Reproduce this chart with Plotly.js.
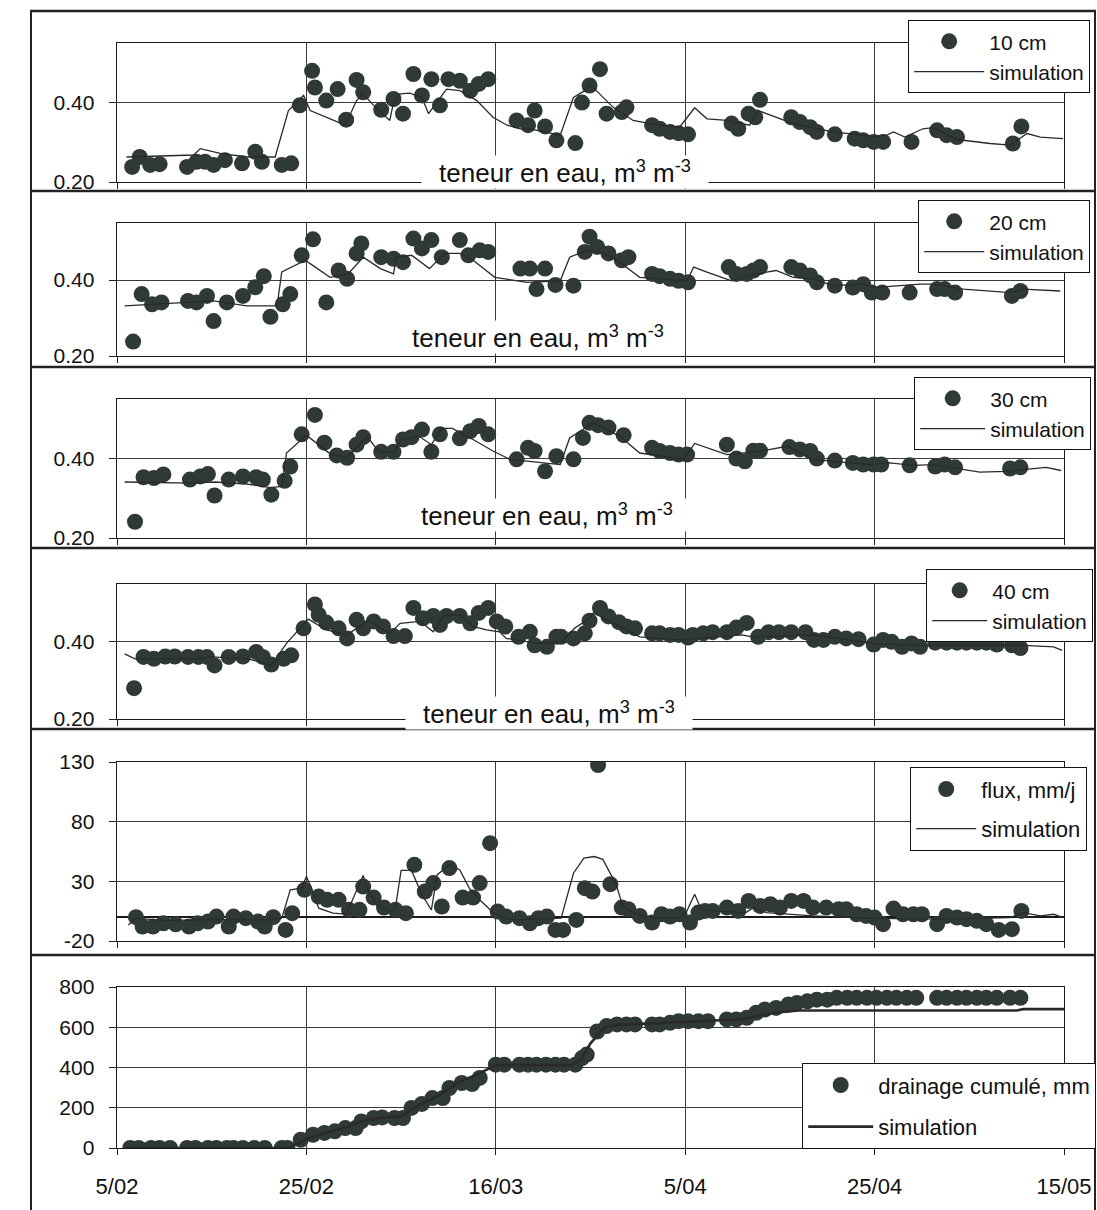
<!DOCTYPE html>
<html>
<head>
<meta charset="utf-8">
<script src="https://cdn.plot.ly/plotly-3.0.1.min.js"></script>
<style>html,body{margin:0;padding:0;background:#fff;}#chart{width:1097px;height:1210px;}</style>
</head>
<body>
<div id="chart"></div>
<script>
// ---- x ticks (days since 5/02) ----
const tickDays = [0, 20, 40, 60, 80, 100];
const tickLabels = ['5/02', '25/02', '16/03', '5/04', '25/04', '15/05'];

// ---- Panel 1 : 10 cm ----
const obsDay10 = [1.6,2.4,3.5,4.5,7.4,8.4,9.3,10.2,11.4,13.2,14.6,15.3,17.4,18.4,19.3,20.6,20.9,22.1,23.3,24.2,25.3,26.0,27.9,29.2,30.2,31.3,32.2,33.2,34.1,35.0,36.2,37.3,38.2,39.2,42.2,43.4,44.1,45.2,46.4,48.4,49.1,49.9,51.0,51.7,53.3,53.8,56.5,57.3,58.4,59.3,60.3,64.9,65.6,66.7,67.4,67.9,71.2,72.1,73.2,73.9,75.8,77.9,78.8,79.9,80.9,83.9,86.6,87.6,88.7,94.6,95.5];
const obs10 = [0.238,0.263,0.243,0.245,0.238,0.251,0.251,0.243,0.255,0.247,0.276,0.251,0.243,0.247,0.393,0.480,0.438,0.405,0.434,0.357,0.457,0.426,0.382,0.409,0.372,0.472,0.418,0.459,0.393,0.459,0.455,0.430,0.447,0.459,0.355,0.343,0.380,0.340,0.305,0.298,0.400,0.443,0.484,0.372,0.376,0.388,0.343,0.334,0.326,0.323,0.320,0.347,0.334,0.372,0.363,0.407,0.363,0.351,0.338,0.326,0.320,0.309,0.305,0.301,0.301,0.301,0.330,0.318,0.313,0.297,0.340];
const simDay10 = [1.0,8.1,8.8,10.9,13.7,16.7,18.1,19.7,20.4,24.1,25.3,26.0,27.1,28.8,29.2,29.9,30.9,32.2,32.9,33.4,34.8,36.2,38.0,39.7,41.2,42.6,43.6,46.8,48.2,49.4,49.9,52.4,54.5,56.3,59.4,61.0,62.3,64.4,66.8,67.7,71.4,75.6,79.9,81.3,82.0,83.2,85.1,86.2,88.7,92.2,94.3,96.1,97.5,99.9];
const sim10 = [0.263,0.268,0.284,0.272,0.263,0.263,0.380,0.418,0.380,0.343,0.405,0.422,0.393,0.355,0.400,0.422,0.424,0.413,0.372,0.388,0.434,0.430,0.405,0.363,0.343,0.334,0.334,0.318,0.413,0.430,0.447,0.388,0.355,0.347,0.338,0.387,0.359,0.355,0.343,0.380,0.347,0.326,0.315,0.318,0.326,0.313,0.334,0.337,0.307,0.297,0.293,0.322,0.313,0.309];

// ---- Panel 2 : 20 cm ----
const obsDay20 = [1.7,2.6,3.7,4.7,7.5,8.4,9.5,10.2,11.6,13.3,14.6,15.5,16.2,17.5,18.3,19.5,20.7,22.1,23.4,24.3,25.3,25.8,27.9,29.2,30.2,31.3,32.2,33.2,34.3,36.2,37.1,38.3,39.2,42.6,43.6,44.3,45.2,46.3,48.2,49.4,49.9,50.7,51.9,53.3,54.0,56.5,57.3,58.4,59.3,60.3,64.6,65.4,66.5,67.2,67.9,71.2,72.1,73.2,73.9,75.8,77.7,78.8,79.7,80.8,83.7,86.6,87.4,88.5,94.5,95.4];
const obs20 = [0.238,0.363,0.336,0.341,0.345,0.341,0.358,0.292,0.341,0.358,0.381,0.410,0.303,0.336,0.363,0.465,0.507,0.341,0.425,0.403,0.470,0.496,0.460,0.456,0.447,0.509,0.483,0.505,0.460,0.505,0.465,0.478,0.474,0.430,0.430,0.376,0.430,0.387,0.385,0.474,0.514,0.487,0.470,0.452,0.460,0.416,0.410,0.403,0.398,0.394,0.434,0.416,0.416,0.425,0.434,0.434,0.425,0.412,0.394,0.385,0.380,0.389,0.367,0.367,0.367,0.376,0.376,0.367,0.358,0.371];
const simDay20 = [0.8,3.5,10.2,13.7,16.9,17.4,19.9,20.4,22.5,24.4,26.0,27.8,29.2,29.5,31.1,33.0,34.6,36.2,37.6,39.9,43.3,46.8,47.8,49.6,51.0,52.8,55.2,60.2,60.9,62.3,64.9,67.5,69.6,71.4,73.5,75.6,78.8,79.9,82.7,84.8,86.2,89.4,94.3,95.7,99.6];
const sim20 = [0.332,0.336,0.345,0.332,0.332,0.421,0.452,0.443,0.407,0.416,0.460,0.430,0.416,0.460,0.465,0.430,0.470,0.470,0.452,0.407,0.394,0.398,0.460,0.478,0.474,0.452,0.407,0.398,0.434,0.421,0.398,0.416,0.425,0.407,0.403,0.385,0.389,0.380,0.385,0.389,0.389,0.376,0.367,0.376,0.371];

// ---- Panel 3 : 30 cm ----
const obsDay30 = [1.9,2.8,3.9,4.9,7.7,8.8,9.6,10.3,11.8,13.3,14.7,15.4,16.3,17.7,18.3,19.5,20.9,21.9,23.2,24.3,25.3,26.0,27.9,29.2,30.2,31.1,32.2,33.2,34.1,36.2,37.3,38.2,39.2,42.2,43.4,44.1,45.2,46.4,48.2,49.2,49.9,50.8,51.9,53.5,56.5,57.3,58.4,59.3,60.2,64.4,65.4,66.3,67.2,67.9,71.0,72.1,73.2,73.9,75.8,77.7,78.8,79.9,80.7,83.7,86.4,87.4,88.5,94.3,95.4];
const obs30 = [0.241,0.353,0.351,0.360,0.347,0.355,0.361,0.307,0.347,0.355,0.353,0.347,0.309,0.344,0.380,0.461,0.510,0.440,0.408,0.402,0.435,0.454,0.417,0.417,0.448,0.454,0.473,0.417,0.461,0.451,0.469,0.482,0.461,0.398,0.427,0.419,0.368,0.406,0.398,0.452,0.490,0.484,0.478,0.459,0.427,0.419,0.414,0.410,0.410,0.435,0.400,0.393,0.420,0.420,0.429,0.423,0.419,0.400,0.395,0.389,0.385,0.385,0.385,0.383,0.380,0.385,0.378,0.375,0.378];
const simDay30 = [0.8,7.7,10.3,13.7,16.2,17.4,17.9,20.0,22.5,24.3,26.4,27.6,29.2,30.0,31.9,33.2,34.3,35.4,37.6,39.7,41.5,43.8,46.8,47.8,49.6,50.3,53.1,55.2,59.8,61.0,64.4,68.0,70.8,73.5,75.6,79.5,81.6,84.1,86.2,89.4,91.1,93.9,98.1,99.7];
const sim30 = [0.341,0.338,0.341,0.336,0.327,0.330,0.414,0.459,0.412,0.402,0.456,0.419,0.414,0.448,0.456,0.435,0.476,0.476,0.448,0.419,0.398,0.393,0.385,0.452,0.478,0.490,0.456,0.414,0.398,0.438,0.410,0.419,0.431,0.398,0.393,0.385,0.389,0.383,0.385,0.372,0.366,0.368,0.378,0.370];

// ---- Panel 4 : 40 cm ----
const obsDay40 = [1.8,2.8,3.9,5.1,6.1,7.5,8.6,9.5,10.3,11.8,13.3,14.7,15.4,16.3,17.6,18.4,19.7,20.9,21.3,22.1,23.4,24.3,25.3,26.0,27.1,28.1,29.2,30.4,31.3,32.3,33.4,34.1,34.8,36.2,37.3,38.2,39.2,40.1,41.0,42.4,43.6,44.1,45.4,46.4,46.9,48.2,49.4,49.9,51.0,51.9,53.0,53.8,54.7,56.5,57.3,58.4,59.3,60.3,60.8,61.9,62.9,64.4,65.4,66.5,67.7,68.8,69.9,71.2,72.7,73.6,74.6,75.8,77.0,78.3,79.9,80.9,81.8,82.9,83.9,84.8,86.4,87.6,88.7,89.7,90.8,91.8,92.9,94.5,95.4];
const obs40 = [0.280,0.361,0.356,0.362,0.362,0.361,0.361,0.361,0.339,0.361,0.362,0.374,0.361,0.341,0.356,0.365,0.435,0.497,0.470,0.450,0.435,0.409,0.457,0.435,0.453,0.440,0.415,0.415,0.488,0.461,0.467,0.444,0.467,0.467,0.448,0.475,0.488,0.453,0.440,0.413,0.426,0.391,0.387,0.413,0.413,0.409,0.422,0.455,0.488,0.466,0.451,0.440,0.435,0.422,0.422,0.418,0.418,0.411,0.418,0.422,0.425,0.425,0.437,0.449,0.413,0.425,0.425,0.425,0.425,0.405,0.405,0.413,0.409,0.407,0.393,0.405,0.400,0.387,0.396,0.387,0.398,0.398,0.398,0.398,0.398,0.398,0.393,0.391,0.384];
const simDay40 = [0.8,1.9,8.6,10.0,13.9,16.3,17.9,20.2,22.1,24.3,26.5,28.8,29.9,32.0,33.4,34.5,36.2,37.6,39.0,40.4,41.1,44.5,47.0,48.3,49.9,50.3,52.8,55.2,59.8,66.0,67.1,73.5,79.9,84.1,92.9,95.7,98.9,99.8];
const sim40 = [0.369,0.356,0.356,0.361,0.356,0.339,0.396,0.459,0.431,0.418,0.455,0.422,0.448,0.453,0.426,0.467,0.470,0.440,0.431,0.426,0.409,0.396,0.400,0.435,0.461,0.475,0.444,0.413,0.405,0.418,0.413,0.418,0.396,0.391,0.391,0.391,0.387,0.378];

// ---- Panel 5 : flux, mm/j ----
const obsDayFlux = [2.0,2.7,3.8,4.9,6.2,7.6,8.5,9.6,10.5,11.8,12.3,13.6,14.9,15.6,16.5,17.8,18.5,19.8,21.3,22.2,23.4,24.5,25.6,26.0,27.1,28.2,29.4,30.5,31.4,32.5,33.4,34.3,35.1,36.5,37.6,38.3,39.4,40.2,41.1,42.5,43.6,44.5,45.4,46.3,47.1,48.5,49.4,50.2,50.8,52.1,53.3,54.0,55.2,56.5,57.5,58.4,59.4,60.5,61.4,62.1,62.9,64.4,65.6,66.7,67.9,69.0,70.0,71.2,72.5,73.5,74.9,76.2,77.0,78.1,79.1,80.0,80.9,82.0,83.0,84.1,85.0,86.6,87.6,88.7,89.7,90.8,91.8,93.1,94.5,95.5];
const obsFlux = [0,-7.9,-7.9,-5.1,-6.0,-7.9,-5.1,-3.7,0.5,-7.9,0.5,-0.9,-3.7,-7.9,0,-10.7,3.3,22.9,17.2,14.5,14.5,6.1,6.1,25.6,16.4,8.0,6.1,3.3,43.8,21.4,28.5,8.9,41.1,16.4,16.4,28.5,62.0,4.7,0.5,-0.9,-5.1,-0.9,0.5,-10.7,-10.7,-2.3,24.3,21.4,127.5,27.6,8.0,6.6,1.0,-4.6,2.4,0.5,2.4,-4.6,3.8,5.2,5.2,8.0,5.2,13.6,9.4,10.8,8.0,13.6,13.6,8.0,8.0,6.6,6.6,2.4,1.0,-0.4,-5.9,7.2,2.4,2.4,2.4,-5.9,1.0,-0.4,-1.7,-3.1,-5.9,-10.7,-10.1,5.2];
const simDayFlux = [1.2,2.0,5.0,10.0,15.9,17.4,18.3,19.5,20.0,20.6,21.3,22.8,24.2,25.3,26.0,26.4,27.4,28.9,29.4,30.0,31.1,32.2,33.2,33.8,35.1,36.2,37.2,38.3,39.6,40.5,41.9,46.9,48.2,49.3,50.4,51.3,52.7,53.4,54.9,56.5,59.4,60.1,61.0,61.7,62.9,66.4,67.2,68.6,73.5,79.9,87.6,94.3,95.7,97.5,98.9,99.9];
const simFlux = [-6.5,-0.9,-3.0,-2.0,-2.3,-0.9,22.9,24.3,34.0,22.9,7.5,3.3,2.5,21.4,34.9,24.3,10.3,4.7,7.5,39.1,39.1,18.7,6.1,35.4,43.8,39.6,24.3,14.5,4.7,0,-2.3,-0.9,36.8,49.4,50.8,48.4,27.6,9.4,2.4,-0.4,-0.4,3.8,19.2,6.6,5.2,3.8,8.0,3.8,1.0,-1.1,-1.7,-0.4,3.8,1.0,2.4,-0.4];

// ---- Panel 6 : drainage cumulé, mm ----
const obsDayCum = [1.4,2.3,3.6,4.5,5.6,7.4,8.3,9.6,10.5,11.6,12.3,13.3,14.5,15.6,17.4,18.0,19.4,20.7,21.9,23.0,24.1,25.2,25.8,27.1,28.0,29.3,30.2,31.1,32.2,33.3,34.4,35.1,36.4,37.5,38.3,40.0,40.9,42.5,43.4,44.3,45.3,46.3,47.2,48.4,49.1,49.6,50.7,51.7,52.8,53.8,54.7,56.5,57.3,58.4,59.3,60.3,61.4,62.4,64.4,65.4,66.5,67.5,68.4,69.6,70.9,71.8,72.9,73.9,75.0,76.0,77.1,78.1,79.2,80.2,81.3,82.3,83.4,84.4,86.6,87.6,88.7,89.7,90.8,91.8,92.9,94.3,95.4];
const obsCum = [0,0,0,0,0,0,0,0,0,0,0,0,0,0,0,0,41,66,75,83,99,99,132,149,152,149,149,199,219,248,248,298,323,318,348,414,414,414,414,414,414,414,414,414,447,464,579,606,614,614,614,614,614,622,630,630,630,630,639,639,647,672,688,696,713,721,729,737,737,746,746,746,746,746,746,746,746,746,746,746,746,746,746,746,746,746,746];
const simDayCum = [1.0,18.0,19.0,20.0,22.0,24.0,26.0,28.0,30.0,32.0,34.0,36.0,38.0,40.0,48.0,49.0,50.0,51.5,53.0,58.0,62.0,66.0,68.0,70.0,72.0,95.0,95.7,100.0];
const simCum = [0,0,20,45,75,100,135,150,158,215,262,325,365,412,412,440,520,600,612,622,630,640,660,675,683,683,690,690];

// ---- legend labels ----
const seriesNames = ['10 cm', '20 cm', '30 cm', '40 cm', 'flux, mm/j', 'drainage cumulé, mm'];
const simName = 'simulation';
const axisLabel = 'teneur en eau, m<sup>3</sup> m<sup>-3</sup>';

// ================= layout helpers =================
const W = 1097, H = 1210;
const FONT = 'Liberation Sans, Arial, Helvetica, sans-serif';
const DOT = '#2f3a36';
const LINE = '#2a2a2a';
const GRID = '#3a3a3a';
const px = p => p / W;
const py = p => 1 - p / H;
const xDomain = [px(117), px(1064)];

// pixel extents of each plot area [top, bottom]
const panelPx = [[43, 182], [223, 356], [399, 538], [584, 719], [762, 941], [987, 1148]];
const yRanges = [[0.2, 0.55], [0.2, 0.55], [0.2, 0.55], [0.2, 0.55], [-20, 130], [0, 800]];
const yTicks = [[0.2, 0.4], [0.2, 0.4], [0.2, 0.4], [0.2, 0.4], [-20, 30, 80, 130], [0, 200, 400, 600, 800]];

const obsX = [obsDay10, obsDay20, obsDay30, obsDay40, obsDayFlux, obsDayCum];
const obsY = [obs10, obs20, obs30, obs40, obsFlux, obsCum];
const simX = [simDay10, simDay20, simDay30, simDay40, simDayFlux, simDayCum];
const simY = [sim10, sim20, sim30, sim40, simFlux, simCum];

const traces = [];
const layout = {
  width: W, height: H,
  margin: {l: 0, r: 0, t: 0, b: 0},
  paper_bgcolor: '#fff', plot_bgcolor: 'rgba(0,0,0,0)',
  font: {family: FONT, color: '#111', size: 20},
  showlegend: true,
  shapes: [], annotations: []
};

for (let i = 0; i < 6; i++) {
  const n = i === 0 ? '' : String(i + 1);
  const legendId = i === 0 ? 'legend' : 'legend' + (i + 1);
  traces.push({
    x: obsX[i], y: obsY[i], xaxis: 'x' + n, yaxis: 'y' + n,
    type: 'scatter', mode: 'markers', name: seriesNames[i],
    legend: legendId, legendgroup: 'o' + i,
    marker: {color: DOT, size: 16, line: {width: 0}},
    hoverinfo: 'skip'
  });
  traces.push({
    x: simX[i], y: simY[i], xaxis: 'x' + n, yaxis: 'y' + n,
    type: 'scatter', mode: 'lines', name: simName,
    legend: legendId, legendgroup: 's' + i,
    line: {color: LINE, width: i === 5 ? 2.6 : 1.3},
    hoverinfo: 'skip'
  });

  const [top, bot] = panelPx[i];
  layout['xaxis' + n] = {
    domain: xDomain, anchor: 'y' + n, range: [0, 100],
    tickmode: 'array', tickvals: tickDays, ticktext: tickLabels,
    showticklabels: i === 5,
    tickfont: {size: 22, family: FONT, color: '#111'},
    ticks: 'outside', ticklen: 6, tickcolor: '#222', ticklabelstandoff: 12,
    showgrid: true, gridcolor: GRID, gridwidth: 1,
    showline: true, linecolor: '#1a1a1a', linewidth: 1.4, mirror: true,
    zeroline: false, fixedrange: true
  };
  layout['yaxis' + n] = {
    domain: [py(bot), py(top)], anchor: 'x' + n, range: yRanges[i],
    tickmode: 'array', tickvals: yTicks[i],
    ticktext: i < 4 ? yTicks[i].map(v => v.toFixed(2)) : yTicks[i].map(String),
    tickfont: {size: 21, family: FONT, color: '#111'},
    ticks: 'outside', ticklen: 7, tickcolor: '#222', ticklabelstandoff: 10,
    showgrid: true, gridcolor: GRID, gridwidth: 1,
    showline: true, linecolor: '#1a1a1a', linewidth: 1.4, mirror: true,
    zeroline: i === 4, zerolinecolor: '#1a1a1a', zerolinewidth: 1.3,
    fixedrange: true
  };
}

// legends
const legendPos = [
  {r: 1090, t: 20, size: 21, gap: 0, iw: 70},
  {r: 1090, t: 200, size: 21, gap: 0, iw: 60},
  {r: 1091, t: 377, size: 21, gap: 0, iw: 65},
  {r: 1093, t: 569, size: 21, gap: 0, iw: 55},
  {r: 1087, t: 767, size: 22, gap: 8, iw: 60},
  {r: 1096, t: 1063, size: 22, gap: 10, iw: 65}
];
legendPos.forEach((p, i) => {
  const key = i === 0 ? 'legend' : 'legend' + (i + 1);
  layout[key] = {
    x: px(p.r), y: py(p.t), xanchor: 'right', yanchor: 'top',
    bgcolor: '#fff', bordercolor: '#111', borderwidth: 1.2,
    font: {family: FONT, size: p.size, color: '#111'},
    traceorder: 'grouped', tracegroupgap: p.gap, itemwidth: p.iw
  };
});

// "teneur en eau" labels sitting on the bottom axis line
const labelPos = [[565, 172], [538, 337], [547, 515], [549, 713]];
labelPos.forEach(([cx, cy]) => {
  layout.annotations.push({
    xref: 'paper', yref: 'paper', x: px(cx), y: py(cy),
    xanchor: 'center', yanchor: 'middle', showarrow: false,
    text: axisLabel, bgcolor: '#fff', width: 284, height: 30,
    font: {family: FONT, size: 26, color: '#111'}
  });
});

// panel frames
const frameY = [11, 191, 367, 548, 729, 955];
frameY.forEach(y => layout.shapes.push({
  type: 'line', xref: 'paper', yref: 'paper', layer: 'above',
  x0: px(30), x1: px(1096), y0: py(y), y1: py(y),
  line: {color: '#222', width: 2.5}
}));
[31, 1095].forEach(x => layout.shapes.push({
  type: 'line', xref: 'paper', yref: 'paper', layer: 'above',
  x0: px(x), x1: px(x), y0: py(11), y1: py(1210),
  line: {color: '#222', width: 2}
}));

Plotly.newPlot('chart', traces, layout, {staticPlot: true, displayModeBar: false});
</script>
</body>
</html>
